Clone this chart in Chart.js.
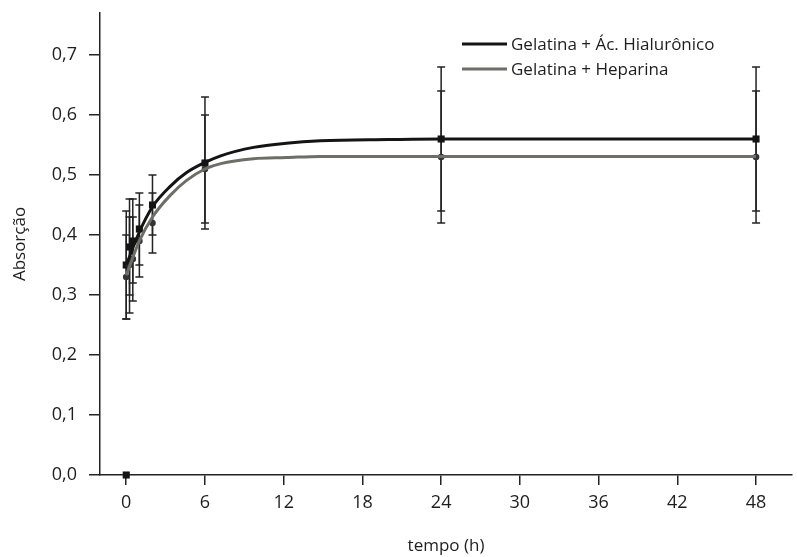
<!DOCTYPE html>
<html>
<head>
<meta charset="utf-8">
<script src="https://cdn.jsdelivr.net/npm/chart.js@4.4.1/dist/chart.umd.min.js"></script>
<style>
  html, body { margin: 0; padding: 0; background: #fff; }
  #box { width: 797px; height: 557px; }
</style>
</head>
<body>
<div id="box"><canvas id="grafico"></canvas></div>
<script>
// === DADOS ===
const tempos = [0, 0.25, 0.5, 1, 2, 6, 24, 48];
const hialuronico = [0.35, 0.38, 0.39, 0.41, 0.45, 0.52, 0.56, 0.56];
const erroHialuronico = [0.09, 0.08, 0.07, 0.06, 0.05, 0.11, 0.12, 0.12];
const heparina = [0.33, 0.35, 0.36, 0.39, 0.42, 0.51, 0.53, 0.53];
const erroHeparina = [0.07, 0.08, 0.07, 0.06, 0.05, 0.09, 0.11, 0.11];

// ponto isolado em t = 0
const tempoExtra = [0];
const hialuronicoExtra = [0.0];

// curvas ajustadas
const tempoAjuste = [0, 1, 2, 3.35, 4.6, 6, 7.2, 9.7, 12.2, 14.8, 20, 24, 36, 48];
const ajusteHialuronico = [0.35, 0.405, 0.447, 0.481, 0.504, 0.521, 0.532, 0.546, 0.553, 0.557, 0.559, 0.56, 0.56, 0.56];
const ajusteHeparina = [0.333, 0.39, 0.43, 0.466, 0.491, 0.51, 0.519, 0.527, 0.529, 0.531, 0.531, 0.531, 0.531, 0.531];

const ticksX = [0, 6, 12, 18, 24, 30, 36, 42, 48];
const ticksY = [0, 0.1, 0.2, 0.3, 0.4, 0.5, 0.6, 0.7];

const nomes = ['Gelatina + Ác. Hialurônico', 'Gelatina + Heparina'];

// === ESTILO ===
const PRETO = '#141414';
const CINZA = '#6e6d67';
const EIXO = '#232323';
const TEXTO = '#1e1e1e';
const FONTE = "'Open Sans', sans-serif";
const TAM = 17;

const pares = (xs, ys) => xs.map((x, i) => ({ x: x, y: ys[i] }));
const semPadding = s => { s.paddingLeft = 0; s.paddingRight = 0; s.paddingTop = 0; s.paddingBottom = 0; };

// === BARRAS DE ERRO ===
const barrasErro = {
  id: 'barrasErro',
  beforeDatasetsDraw(chart) {
    const { ctx, scales: { x, y } } = chart;
    const series = [[hialuronico, erroHialuronico], [heparina, erroHeparina]];
    ctx.save();
    ctx.strokeStyle = EIXO;
    ctx.lineWidth = 1.5;
    series.forEach(([vals, errs]) => {
      tempos.forEach((t, i) => {
        const px = x.getPixelForValue(t);
        const top = y.getPixelForValue(vals[i] + errs[i]);
        const bot = y.getPixelForValue(vals[i] - errs[i]);
        ctx.beginPath();
        ctx.moveTo(px, top); ctx.lineTo(px, bot);
        ctx.moveTo(px - 4, top); ctx.lineTo(px + 4, top);
        ctx.moveTo(px - 4, bot); ctx.lineTo(px + 4, bot);
        ctx.stroke();
      });
    });
    ctx.restore();
  }
};

// === LEGENDA ===
const legenda = {
  id: 'legenda',
  afterDraw(chart) {
    const ctx = chart.ctx;
    const cores = [PRETO, CINZA];
    ctx.save();
    ctx.font = TAM + 'px ' + FONTE;
    ctx.textBaseline = 'middle';
    ctx.fillStyle = TEXTO;
    nomes.forEach((nome, i) => {
      const yy = 44 + i * 25;
      ctx.strokeStyle = cores[i];
      ctx.lineWidth = 3;
      ctx.beginPath();
      ctx.moveTo(462, yy); ctx.lineTo(507, yy);
      ctx.stroke();
      ctx.fillText(nome, 511, yy + 1);
    });
    ctx.restore();
  }
};

// === GRAFICO ===
new Chart(document.getElementById('grafico'), {
  type: 'scatter',
  data: {
    datasets: [
      {
        label: nomes[0],
        type: 'line',
        data: pares(tempoAjuste, ajusteHialuronico),
        borderColor: PRETO,
        borderWidth: 3,
        pointRadius: 0,
        cubicInterpolationMode: 'monotone',
        fill: false
      },
      {
        label: nomes[1],
        type: 'line',
        data: pares(tempoAjuste, ajusteHeparina),
        borderColor: CINZA,
        borderWidth: 3,
        pointRadius: 0,
        cubicInterpolationMode: 'monotone',
        fill: false
      },
      {
        label: nomes[1] + ' (pontos)',
        data: pares(tempos, heparina),
        pointStyle: 'circle',
        pointRadius: 3.3,
        backgroundColor: '#333',
        borderWidth: 0,
        clip: false
      },
      {
        label: nomes[0] + ' (pontos)',
        data: pares(tempoExtra.concat(tempos), hialuronicoExtra.concat(hialuronico)),
        pointStyle: 'rect',
        pointRadius: 5,
        backgroundColor: PRETO,
        borderWidth: 0,
        clip: false
      }
    ]
  },
  options: {
    responsive: true,
    maintainAspectRatio: false,
    animation: false,
    layout: { padding: { top: 13, right: 0, left: 0, bottom: 0 } },
    plugins: { legend: { display: false }, tooltip: { enabled: false } },
    scales: {
      x: {
        type: 'linear',
        min: -2,
        max: 50.74,
        afterFit: s => { s.height = 82; semPadding(s); },
        afterBuildTicks: s => { s.ticks = ticksX.map(v => ({ value: v })); },
        border: { display: true, color: EIXO, width: 1.5 },
        grid: { drawOnChartArea: false, drawTicks: true, tickLength: 10, color: EIXO, lineWidth: 1.5 },
        ticks: { padding: 7, color: TEXTO, font: { family: FONTE, size: 18 } },
        title: { display: true, text: 'tempo (h)', color: TEXTO, font: { family: FONTE, size: TAM }, padding: { top: 0, bottom: 1 } }
      },
      y: {
        type: 'linear',
        min: 0,
        max: 0.77,
        afterFit: s => { s.width = 100; semPadding(s); },
        afterBuildTicks: s => { s.ticks = ticksY.map(v => ({ value: v })); },
        border: { display: true, color: EIXO, width: 1.5 },
        grid: { drawOnChartArea: false, drawTicks: true, tickLength: 11, color: EIXO, lineWidth: 1.5 },
        ticks: {
          padding: 12,
          color: TEXTO,
          font: { family: FONTE, size: 18 },
          callback: v => v.toFixed(1).replace('.', ',')
        },
        title: { display: true, text: 'Absorção', color: TEXTO, font: { family: FONTE, size: TAM }, padding: { top: 10, bottom: 0 } }
      }
    }
  },
  plugins: [barrasErro, legenda]
});
</script>
</body>
</html>
